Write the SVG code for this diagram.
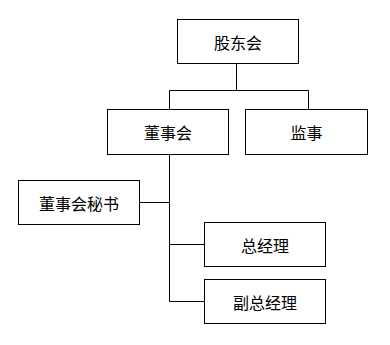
<svg xmlns="http://www.w3.org/2000/svg" width="390" height="345" viewBox="0 0 390 345">
<style>
.box{fill:#fff;stroke:#000;stroke-width:1}
.lbl{font-family:"Noto Sans CJK SC","Liberation Sans",sans-serif;font-size:16px;fill:#000;text-anchor:middle;dominant-baseline:central}
.ln{fill:none;stroke:#000;stroke-width:1}
</style>
<rect width="390" height="345" fill="#fff"/>
<g id="connectors">
<path class="ln" d="M236.5 63.5V90.5M169.5 90.5H308.5M169.5 90.5V109.5M308.5 90.5V109.5"/>
<path class="ln" d="M169.5 154.5V301.5M139.5 202.5H169.5M169.5 244.5H204.5M169.5 301.5H204.5"/>
</g>
<g id="n_gudonghui"><rect class="box" x="177.5" y="19.5" width="121" height="44"/><text class="lbl" x="238" y="41.5">股东会</text></g>
<g id="n_dongshihui"><rect class="box" x="107.5" y="109.5" width="121" height="45"/><text class="lbl" x="168" y="132">董事会</text></g>
<g id="n_jianshi"><rect class="box" x="245.5" y="109.5" width="122" height="45"/><text class="lbl" x="306.5" y="132">监事</text></g>
<g id="n_mishu"><rect class="box" x="18.5" y="180.5" width="121" height="44"/><text class="lbl" x="79" y="202.5">董事会秘书</text></g>
<g id="n_zongjingli"><rect class="box" x="204.5" y="222.5" width="121" height="44"/><text class="lbl" x="265" y="244.5">总经理</text></g>
<g id="n_fuzongjingli"><rect class="box" x="204.5" y="279.5" width="121" height="44"/><text class="lbl" x="265" y="301.5">副总经理</text></g>
</svg>
